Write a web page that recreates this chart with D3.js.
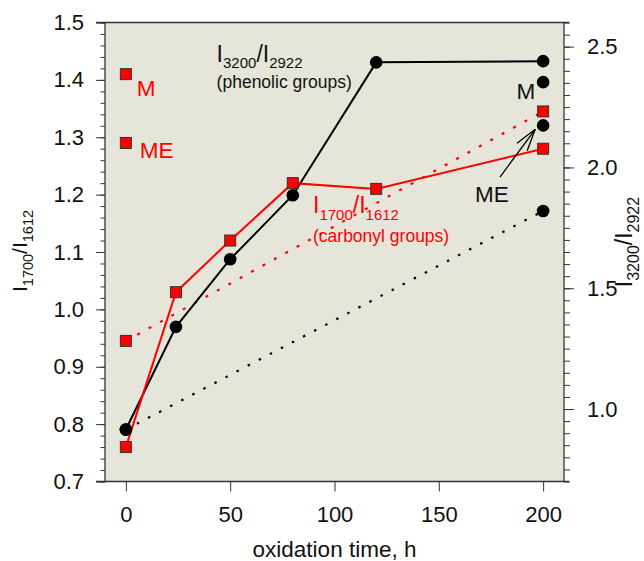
<!DOCTYPE html>
<html><head><meta charset="utf-8">
<script src="https://cdn.jsdelivr.net/npm/d3@7"></script>
<style>body{margin:0;background:#fff;} svg{display:block;font-family:"Liberation Sans",Arial,sans-serif;}</style>
</head><body><svg id="c" width="644" height="561"></svg>
<script>
// ---- data ----
const time = [0, 24, 50, 80, 120, 200];
const carbonyl = [0.76, 1.03, 1.12, 1.22, 1.21, 1.28];      // I1700/I1612 (left axis)
const phenolic = [0.915, 1.34, 1.62, 1.885, 2.435, 2.44];   // I3200/I2922 (right axis)
const dotTime = [0, 200];
const carbonylDotted = [0.945, 1.345];
const phenolicDotted = [0.915, 1.82];
const carbonylRefTime = 0;
const carbonylRefLabels = ["M", "ME"];
const carbonylRefValues = [1.41, 1.29];
const phenolicRefTime = 200;
const phenolicRefLabels = ["M", "ME"];
const phenolicRefValues = [2.353, 2.174];
const xTicks = [0, 50, 100, 150, 200];
const leftTicks = [0.7, 0.8, 0.9, 1.0, 1.1, 1.2, 1.3, 1.4, 1.5];
const rightTicks = [1.0, 1.5, 2.0, 2.5];
const xTitle = "oxidation time, h";

// ---- layout ----
const L = 105, R = 564, T = 22.5, B = 481.5;
const svg = d3.select("#c");
const x = d3.scaleLinear().domain([-10, 210]).range([L, R]);
const yL = d3.scaleLinear().domain([0.7, 1.5]).range([B, T]);
const yR = d3.scaleLinear().domain([0.7, 2.6]).range([B, T]);
const AX = "#333", RED = "#ff0000", BG = "#e5e5da";

svg.append("rect").attr("x", L).attr("y", T).attr("width", R - L).attr("height", B - T).attr("fill", BG);

function styleAxis(g, fs) {
  g.select(".domain").remove();
  g.selectAll(".tick line").attr("stroke", AX).attr("stroke-width", 1);
  g.selectAll(".tick text").attr("fill", "#111").attr("font-size", fs).attr("font-family", "Liberation Sans, Arial, sans-serif");
}
// left axis
const leftMinor = d3.range(0, 41).map(i => +(0.7 + i * 0.02).toFixed(2));
svg.append("g").attr("transform", `translate(${L},0)`)
  .call(d3.axisLeft(yL).tickValues(leftMinor).tickSize(4.5).tickFormat(""))
  .call(g => styleAxis(g, 22));
svg.append("g").attr("transform", `translate(${L},0)`)
  .call(d3.axisLeft(yL).tickValues(leftTicks).tickSize(9).tickPadding(12).tickFormat(d3.format(".1f")))
  .call(g => styleAxis(g, 22));
// right axis
const rightMinor = d3.range(0, 39).map(i => +(0.7 + i * 0.05).toFixed(2));
svg.append("g").attr("transform", `translate(${R},0)`)
  .call(d3.axisRight(yR).tickValues(rightMinor).tickSize(6).tickFormat(""))
  .call(g => styleAxis(g, 22));
svg.append("g").attr("transform", `translate(${R},0)`)
  .call(d3.axisRight(yR).tickValues(rightTicks).tickSize(10).tickPadding(13).tickFormat(d3.format(".1f")))
  .call(g => styleAxis(g, 22));
// bottom axis
svg.append("g").attr("transform", `translate(0,${B})`)
  .call(d3.axisBottom(x).tickValues(xTicks).tickSize(10).tickPadding(15).tickFormat(d3.format("d")))
  .call(g => styleAxis(g, 22));

// frame
const frame = svg.append("g").attr("stroke", AX).attr("stroke-width", 1.3);
frame.append("line").attr("x1", L).attr("x2", L).attr("y1", T).attr("y2", B);
frame.append("line").attr("x1", R).attr("x2", R).attr("y1", T).attr("y2", B);
frame.append("line").attr("x1", L - 9).attr("x2", R + 5).attr("y1", T).attr("y2", T);
frame.append("line").attr("x1", L - 9).attr("x2", R + 5).attr("y1", B).attr("y2", B);

// ---- text helper with subscripts ----
function subText(parent, px, py, parts, F, s, shift, color, rotate) {
  const t = parent.append("text").attr("fill", color)
    .attr("transform", rotate ? `translate(${px},${py}) rotate(-90)` : `translate(${px},${py})`)
    .attr("text-anchor", rotate ? "middle" : "start");
  parts.forEach((p, i) => {
    const isSub = i % 2 === 1;
    t.append("tspan").text(p).attr("font-size", isSub ? s : F)
      .attr("dy", i === 0 ? 0 : (isSub ? shift : -shift));
  });
  return t;
}

// ---- series ----
const lineL = d3.line().x(d => x(d[0])).y(d => yL(d[1]));
const lineR = d3.line().x(d => x(d[0])).y(d => yR(d[1]));
const carb = time.map((t, i) => [t, carbonyl[i]]);
const phen = time.map((t, i) => [t, phenolic[i]]);
const carbD = dotTime.map((t, i) => [t, carbonylDotted[i]]);
const phenD = dotTime.map((t, i) => [t, phenolicDotted[i]]);

svg.append("path").attr("d", lineR(phenD)).attr("fill", "none").attr("stroke", "#000")
  .attr("stroke-width", 2.2).attr("stroke-dasharray", "2.5,10");
svg.append("path").attr("d", lineL(carbD)).attr("fill", "none").attr("stroke", RED)
  .attr("stroke-width", 2.2).attr("stroke-dasharray", "3,10");
svg.append("path").attr("d", lineR(phen)).attr("fill", "none").attr("stroke", "#000").attr("stroke-width", 2);
svg.append("path").attr("d", lineL(carb)).attr("fill", "none").attr("stroke", RED).attr("stroke-width", 2);

// circles (right axis)
const circ = phen.concat(phenD, phenolicRefValues.map(v => [phenolicRefTime, v]));
svg.append("g").selectAll("circle").data(circ).join("circle")
  .attr("cx", d => x(d[0])).attr("cy", d => yR(d[1])).attr("r", 6.3).attr("fill", "#000");
// squares (left axis)
const sq = carb.concat(carbD, carbonylRefValues.map(v => [carbonylRefTime, v]));
const S = 11;
svg.append("g").selectAll("rect").data(sq).join("rect")
  .attr("x", d => x(d[0]) - S / 2).attr("y", d => yL(d[1]) - S / 2).attr("width", S).attr("height", S)
  .attr("fill", RED).attr("stroke", "#333").attr("stroke-width", 1);

// ---- annotations ----
carbonylRefLabels.forEach((lab, i) => {
  svg.append("text").text(lab).attr("fill", RED).attr("font-size", 22.5)
    .attr("x", x(carbonylRefTime) + (i === 0 ? 11 : 14)).attr("y", yL(carbonylRefValues[i]) + (i === 0 ? 22 : 15));
});
svg.append("text").text(phenolicRefLabels[0]).attr("fill", "#111").attr("font-size", 22.5)
  .attr("text-anchor", "end").attr("x", x(phenolicRefTime) - 8).attr("y", yR(phenolicRefValues[0]) + 17);
const arrowFrom = [179.3, 1.96], arrowTo = [196.2, 2.158];
svg.append("text").text(phenolicRefLabels[1]).attr("fill", "#111").attr("font-size", 22.5)
  .attr("x", x(arrowFrom[0]) - 25).attr("y", yR(arrowFrom[1]) + 25);
const ax1 = x(arrowFrom[0]), ay1 = yR(arrowFrom[1]), ax2 = x(arrowTo[0]), ay2 = yR(arrowTo[1]);
const ang = Math.atan2(ay2 - ay1, ax2 - ax1), hl = 23, ha = 0.28;
const ag = svg.append("g").attr("stroke", "#000").attr("stroke-width", 1.3).attr("fill", "none");
ag.append("line").attr("x1", ax1).attr("y1", ay1).attr("x2", ax2).attr("y2", ay2);
[ang + Math.PI - ha, ang + Math.PI + ha].forEach(a => {
  ag.append("line").attr("x1", ax2).attr("y1", ay2)
    .attr("x2", ax2 + hl * Math.cos(a)).attr("y2", ay2 + hl * Math.sin(a));
});

// series labels
subText(svg, x(43.5), yL(1.432), ["I", "3200", "/I", "2922"], 23, 15, 6.5, "#111", false);
svg.append("text").text("(phenolic groups)").attr("fill", "#111").attr("font-size", 17.5)
  .attr("x", x(43.5)).attr("y", yL(1.386));
subText(svg, x(89.7), yL(1.168), ["I", "1700", "/I", "1612"], 23, 15, 7, RED, false);
svg.append("text").text("(carbonyl groups)").attr("fill", RED).attr("font-size", 17.5)
  .attr("x", x(89.7)).attr("y", yL(1.117));

// axis titles
svg.append("text").text(xTitle).attr("fill", "#111").attr("font-size", 22.5)
  .attr("text-anchor", "middle").attr("x", x(100)).attr("y", 557);
subText(svg, 27, 251, ["I", "1700", "/I", "1612"], 21, 14.5, 6, "#111", true);
subText(svg, 632, 242, ["I", "3200", "/I", "2922"], 23, 16, 6.5, "#111", true);
</script>
</body></html>
